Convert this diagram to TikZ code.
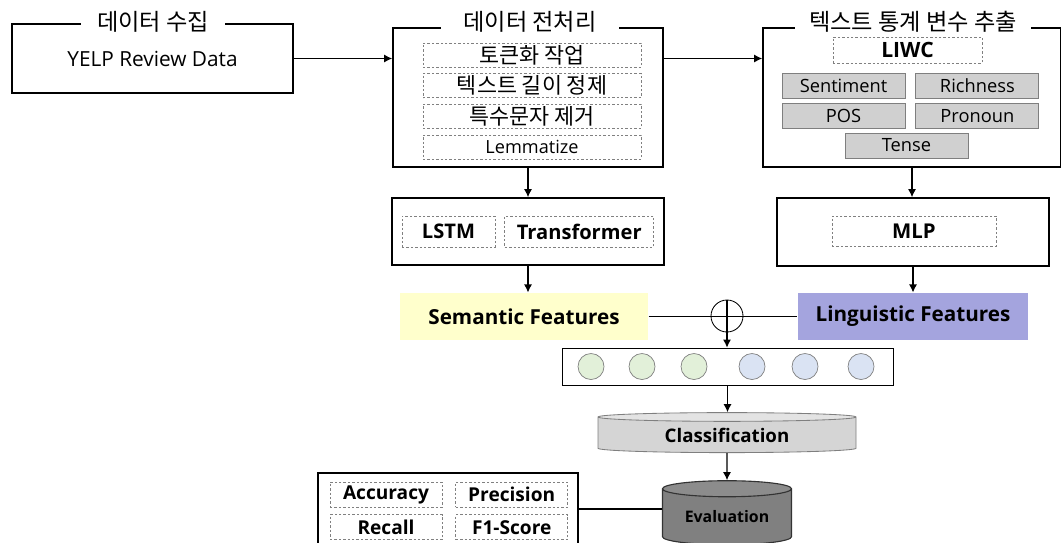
\documentclass[tikz,border=0pt]{standalone}
\usepackage{fontspec}
\setmainfont{Open Sans}
\newfontfamily\kr{Noto Sans CJK KR}
\usetikzlibrary{shapes.geometric,positioning,arrows.meta}
\definecolor{semfill}{HTML}{FFFFCC}
\definecolor{lingfill}{HTML}{A4A4DE}
\definecolor{greenunit}{HTML}{E2F0D9}
\definecolor{blueunit}{HTML}{DAE3F3}
\definecolor{boxgray}{HTML}{D0D0D0}
\definecolor{edgegray}{HTML}{7F7F7F}

\begin{document}
\begin{tikzpicture}[
  x=0.25mm, y=-0.25mm,
  line width=0.8pt,
  >={Latex[length=2mm,width=2mm]},
  frame/.style={draw,line width=1.2pt,inner sep=0pt},
  frametitle/.style={fill=white,inner xsep=4mm,inner ysep=0pt,font=\kr\fontsize{16.5}{19}\selectfont},
  dashbox/.style={draw=gray,line width=0.5pt,dash pattern=on 0.6mm off 0.5mm,inner sep=0pt,minimum height=6mm},
  krstep/.style={dashbox,minimum width=54.5mm,font=\kr\fontsize{15.5}{17}\selectfont},
  graybox/.style={draw=edgegray,line width=0.6pt,fill=boxgray,inner sep=0pt,minimum width=30.75mm,minimum height=6.25mm,font=\fontsize{13}{15}\selectfont},
  feature/.style={inner sep=0pt,minimum height=11.75mm,font=\bfseries\fontsize{14.7}{17}\selectfont},
  metric/.style={dashbox,minimum width=28mm,minimum height=6.25mm,font=\bfseries\fontsize{13.6}{15}\selectfont},
  unit/.style={circle,draw=edgegray,line width=0.5pt,minimum size=6.5mm,inner sep=0pt},
  node distance=1.5mm
]
  \clip (0,0) rectangle (1061,542);

  % frames
  \node[frame,minimum width=70.25mm,minimum height=17.25mm,font=\fontsize{14.8}{17}\selectfont] (collect) at (152.5,58.5) {YELP Review Data};
  \node[frame,minimum width=67.5mm,minimum height=34.75mm] (prep) at (528,97.5) {};
  \node[frame,minimum width=74.5mm,minimum height=34.75mm] (stat) at (912,97.5) {};
  \node[frame,minimum width=68mm,minimum height=16.75mm] (model) at (528,231.5) {};
  \node[frame,minimum width=68mm,minimum height=17mm] (mlp) at (913,232) {};

  \node[frametitle] (collect title) at (153,22) {데이터 수집};
  \node[frametitle,inner xsep=5.5mm] (prep title) at (530,22) {데이터 전처리};
  \node[frametitle,inner xsep=3.5mm] (stat title) at (913,22) {텍스트 통계 변수 추출};

  % preprocessing steps
  \node[krstep] (token) at (532,55) {토큰화 작업};
  \node[krstep,below=of token] (length) {텍스트 길이 정제};
  \node[krstep,below=of length] (special) {특수문자 제거};
  \node[krstep,font=\fontsize{12.9}{14}\selectfont,below=of special] (lemma) {Lemmatize};

  % statistics
  \node[dashbox,minimum width=37.25mm,minimum height=6.5mm,font=\bfseries\fontsize{15}{17}\selectfont] (liwc) at (907.5,50) {LIWC};
  \node[graybox] (sentiment) at (843.5,85.5) {Sentiment};
  \node[graybox,right=2.5mm of sentiment] (richness) {Richness};
  \node[graybox,below=1.25mm of sentiment] (pos) {POS};
  \node[graybox,below=1.25mm of richness] (pronoun) {Pronoun};
  \node[graybox] (tense) at (906.5,145.5) {Tense};

  % models
  \node[dashbox,minimum width=23.25mm,minimum height=7.75mm,font=\bfseries\fontsize{14.3}{16}\selectfont] (lstm) at (448.5,231.5) {LSTM};
  \node[dashbox,minimum width=37.25mm,minimum height=7.75mm,font=\bfseries\fontsize{14.3}{16}\selectfont,right=2.25mm of lstm] (transformer) {Transformer};
  \node[dashbox,minimum width=41mm,minimum height=7.5mm,font=\bfseries\fontsize{14.5}{16}\selectfont] (mlp layer) at (914,231) {MLP};

  % features
  \node[feature,fill=semfill,minimum width=62mm] (semantic) at (524,316.5) {Semantic Features};
  \node[feature,fill=lingfill,minimum width=57.5mm] (linguistic) at (913,316.5) {Linguistic Features};
  \node[circle,draw,minimum size=8mm,inner sep=0pt,line width=0.6pt] (concat) at (727,316) {};

  \node[draw,line width=0.6pt,minimum width=82.75mm,minimum height=9.25mm,inner sep=0pt] (vector) at (727.5,366.5) {};
  \foreach \x/\c [count=\i] in {591/greenunit,642/greenunit,694/greenunit,752/blueunit,805/blueunit,861/blueunit}
    \node[unit,fill=\c] (unit\i) at (\x,366.5) {};

  % classification and evaluation
  \node[cylinder,shape border rotate=90,shape aspect=0.07,draw=edgegray,line width=0.6pt,
    cylinder uses custom fill,cylinder body fill=boxgray!90,cylinder end fill=boxgray!60,
    minimum width=64.5mm,minimum height=10mm,inner sep=0pt,
    font=\bfseries\fontsize{13.3}{15}\selectfont] (classify) at (727,435) {Classification};
  \node[cylinder,shape border rotate=90,shape aspect=0.19,draw=black!80,line width=0.8pt,
    cylinder uses custom fill,cylinder body fill=black!50,cylinder end fill=black!45,
    minimum width=32.25mm,minimum height=16mm,inner sep=0pt,
    font=\bfseries\fontsize{11.3}{13}\selectfont] (evaluate) at (727,517) {Evaluation};

  \node[frame,minimum width=65mm,minimum height=18mm] (metrics) at (448,509) {};
  \node[metric] (accuracy) at (386,494.5) {Accuracy};
  \node[metric,right=3.25mm of accuracy] (precision) {Precision};
  \node[metric,below=1.75mm of accuracy] (recall) {Recall};
  \node[metric,below=1.75mm of precision] (f1) {F1-Score};

  % connectors
  \draw[->] (collect.east) -- (collect.east -| prep.west);
  \draw[->] (collect.east -| prep.east) -- (collect.east -| stat.west);
  \draw[->] (prep.south) -- (model.north);
  \draw[->] (stat.south) -- (stat.south |- mlp.north);
  \draw[->] (model.south) -- (model.south |- semantic.north);
  \draw[->] (mlp.south) -- (linguistic.north);
  \draw (semantic.east) -- (linguistic.west);
  \draw[->] (concat.north) -- (concat.north |- vector.north);
  \draw[->] (vector.south) -- (vector.south |- classify.north);
  \draw[->] (classify.south) -- (evaluate.north);
  \draw (metrics.east) -- (metrics.east -| evaluate.west);
\end{tikzpicture}
\end{document}
